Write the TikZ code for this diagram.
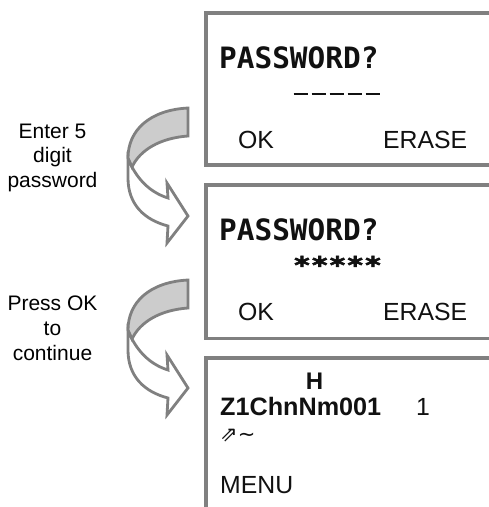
\documentclass[tikz,border=0pt]{standalone}
\usepackage{fontspec}
\setmainfont{Liberation Sans}
\newfontfamily\lcdb{DejaVu Sans Mono}
\newfontfamily\lcdstar[FakeBold=2.5]{DejaVu Sans Mono Bold}
\newfontfamily\symf{DejaVu Sans}
\newcommand{\pxf}[1]{\fontsize{#1}{#1}\selectfont}
\newcommand{\dashrule}{\rule[0pt]{14pt}{1.7pt}}
\definecolor{edge}{HTML}{808080}
\definecolor{fillg}{HTML}{CCCCCC}
\definecolor{ink}{HTML}{111111}
\tikzset{x=1pt,y=-1pt,
 panel/.style={draw=edge,line width=3.2pt,line cap=butt},
 curl/.style={draw=edge,line width=2.8pt,line join=miter},
 note/.style={anchor=base,inner sep=0pt,font=\pxf{21},text=black},
 lcdbold/.style={anchor=base west,inner sep=0pt,text=ink,font=\pxf{29.4}\lcdb\bfseries},
 boldt/.style={anchor=base west,inner sep=0pt,text=ink,font=\pxf{25.2}\bfseries},
 softt/.style={anchor=base west,inner sep=0pt,text=ink,font=\pxf{24.8}}}
\begin{document}
\begin{tikzpicture}
\useasboundingbox (0,0) rectangle (489,507);
\fill[white] (0,0) rectangle (489,507);
\draw[panel] (489,13) -- (206,13) -- (206,165) -- (489,165);
\draw[panel] (489,185) -- (206,185) -- (206,338.5) -- (489,338.5);
\draw[panel] (489,358) -- (206,358) -- (206,507);
\node[note] (n1a) at (52.5,138) {Enter 5};
\node[note] (n1b) at (52.5,162.5) {digit};
\node[note] (n1c) at (52.5,187) {password};
\node[note] (n2a) at (52.5,310) {Press OK};
\node[note] (n2b) at (52.5,335) {to};
\node[note] (n2c) at (52.5,360) {continue};
\foreach \d in {0,172}{
 \begin{scope}[yshift=-\d pt]
 \draw[curl,fill=white] (132,167) .. controls (140,182) and (152,193) .. (168,198) -- (167,183) -- (188,216) -- (167,243) -- (168,226) .. controls (145,220) and (128,205) .. (128,178) -- (128,158) -- cycle;
 \draw[curl,fill=fillg] (188,108) .. controls (150,110) and (128,130) .. (128,158) -- (132,167) .. controls (140,150) and (160,138) .. (188,136) -- cycle;
 \end{scope}}
\node[lcdbold] (p1) at (219,68) {PASSWORD?};
\node[anchor=center,inner sep=0pt] (d1) at (336.5,94) {\color{ink}\dashrule\hspace{4pt}\dashrule\hspace{4pt}\dashrule\hspace{4pt}\dashrule\hspace{4pt}\dashrule};
\node[softt] (o1) at (238,148) {OK};
\node[softt] (e1) at (383,148) {ERASE};
\node[lcdbold] (p2) at (219,240) {PASSWORD?};
\node[anchor=base,inner sep=0pt,text=ink,font=\pxf{29.5}\lcdstar] (s2) at (337.5,273.5) {\scalebox{1}[0.8]{*****}};
\node[softt] (o2) at (238,320) {OK};
\node[softt] (e2) at (383,320) {ERASE};
\node[boldt,anchor=base,font=\pxf{24}\bfseries] (h) at (314.5,389) {H};
\node[boldt] (z) at (220,415) {Z1ChnNm001};
\node[softt,anchor=base] (one) at (423,415) {1};
\node[anchor=base west,inner sep=0pt,font=\pxf{21}\symf,text=ink] (ic) at (220,441) {⇗∼};
\node[softt] (m) at (220,493) {MENU};
\end{tikzpicture}
\end{document}
